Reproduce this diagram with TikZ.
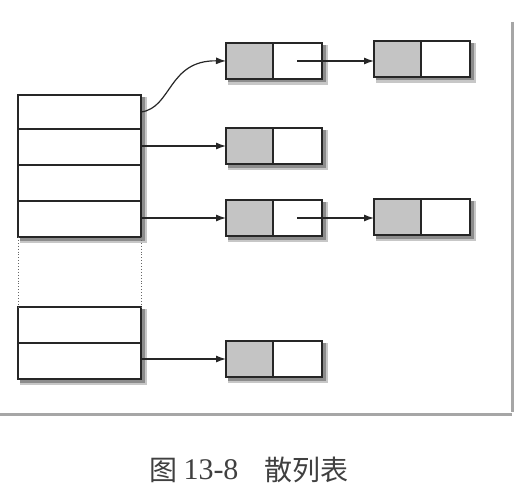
\documentclass[tikz,border=0pt]{standalone}
\usepackage{fontspec}
\newfontfamily\cjk{Noto Sans CJK SC}
\setmainfont{Liberation Serif}
\usetikzlibrary{arrows.meta}
\definecolor{cellgray}{HTML}{C4C4C4}
\tikzset{
  shdA/.style={fill=black!22},
  shdB/.style={fill=black!45},
  cell/.style={draw=black!85,line width=1.4pt,minimum width=#1,minimum height=36pt,inner sep=0pt,outer sep=0pt},
  conn/.style={draw=black!85,line width=1.2pt,-{Latex[length=10pt,width=7pt]}},
  frameline/.style={draw=black!35,line width=3pt},
  captext/.style={font=\fontsize{28pt}{32pt}\selectfont,text=black!75,inner sep=0pt}
}
\newcommand{\boxshadow}[4]{% x y w h
  \fill[shdA] (#1+2,#2+2) rectangle (#1+#3+5.5,#2+#4+6);
  \fill[shdB] (#1+2,#2+2) rectangle (#1+#3+3.5,#2+#4+3.5);
}
\begin{document}
\begin{tikzpicture}[x=1pt,y=-1pt]
\useasboundingbox (0,0) rectangle (521,492);
\fill[white] (0,0) rectangle (521,492);
% frame
\draw[frameline] (512,22) -- (512,412);
\draw[frameline] (0,414) -- (512,414);
% table upper block
\boxshadow{18}{95}{123}{142}
\node[cell=123pt,minimum height=142pt,anchor=north west,fill=white] (tabA) at (18,95) {};
\node[cell=123pt,minimum height=34pt,anchor=north west] (r1) at (18,95) {};
\node[cell=123pt,anchor=north west] (r2) at (18,129) {};
\node[cell=123pt,anchor=north west] (r3) at (18,165) {};
\node[cell=123pt,anchor=north west] (r4) at (18,201) {};
% table lower block
\boxshadow{18}{307}{123}{72}
\node[cell=123pt,minimum height=72pt,anchor=north west,fill=white] (tabB) at (18,307) {};
\node[cell=123pt,anchor=north west] (r5) at (18,307) {};
\node[cell=123pt,anchor=north west] (r6) at (18,343) {};
% dotted sides
\draw[black!60,dotted,line width=0.9pt] (tabA.south west) -- (tabB.north west);
\draw[black!60,dotted,line width=0.9pt] (tabA.south east) -- (tabB.north east);
% list nodes: gray key + white pointer
\newcommand{\listnode}[3]{%
  \boxshadow{#2}{#3}{96}{36}
  \node[cell=96pt,anchor=north west,fill=white] (#1) at (#2,#3) {};
  \node[cell=47pt,anchor=north west,fill=cellgray] (#1k) at (#2,#3) {};
  \node[cell=49pt,anchor=north east] (#1p) at (#1.north east) {};
  \coordinate (#1d) at ([xshift=-25pt]#1.east);
}
\listnode{a}{226}{43}
\listnode{b}{374}{41}
\listnode{c}{226}{128}
\listnode{d}{226}{200}
\listnode{e}{374}{199}
\listnode{f}{226}{341}
\coordinate (t1) at (r1.east|-0,112);
% connectors
\draw[conn] (t1) .. controls (172,108) and (168,60) .. (a.west);
\draw[conn] (r2.east|-c.west) -- (c.west);
\draw[conn] (r4.east|-d.west) -- (d.west);
\draw[conn] (r6.east|-f.west) -- (f.west);
\draw[conn] (ad) -- (ad-|b.west);
\draw[conn] (dd) -- (dd-|e.west);
% caption
\node[captext] (cap1) at (163,470) {\cjk 图};
\node[captext,font=\fontsize{30pt}{34pt}\selectfont] (cap2) at (211,470) {13-8};
\node[captext] (cap3) at (306,470) {\cjk 散列表};
\end{tikzpicture}
\end{document}
